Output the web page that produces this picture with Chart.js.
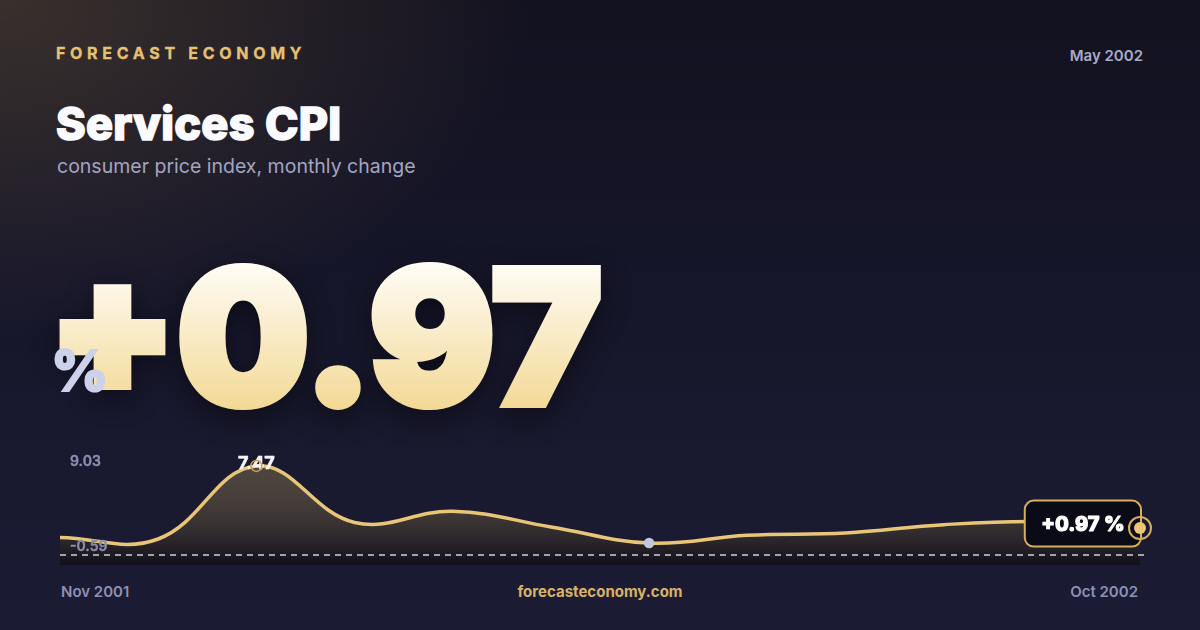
<!DOCTYPE html>
<html>
<head>
<meta charset="utf-8">
<title>Services CPI</title>
<script src="https://cdn.jsdelivr.net/npm/chart.js@4.4.0/dist/chart.umd.min.js"></script>
<style>
html, body { margin: 0; padding: 0; }
body {
    width: 1200px; height: 630px; overflow: hidden; position: relative;
    font-family: Inter, "Noto Sans", sans-serif;
    background:
        radial-gradient(ellipse 760px 480px at 0% 0%, rgba(112, 90, 62, 0.42), rgba(112, 90, 62, 0) 70%),
        linear-gradient(180deg, #131220 0%, #16162a 45%, #1b1b34 100%);
}
.t { position: absolute; line-height: 1; white-space: nowrap; }
#brand { left: 56px; top: 45px; font-size: 16px; font-weight: 700; letter-spacing: 4.7px; color: #e6c170; -webkit-text-stroke: 0.3px #e6c170; }
#date { right: 57px; top: 48px; font-size: 15px; font-weight: 600; color: #a8abc8; }
#title { left: 56px; top: 101px; font-size: 45px; font-weight: 800; color: #fafaff; letter-spacing: 0.3px; -webkit-text-stroke: 1.6px #fafaff; }
#subtitle { left: 57px; top: 157px; font-size: 19.5px; font-weight: 400; color: #a3a5c2; }
#big { position: absolute; left: 0; top: 220px; filter: drop-shadow(0 8px 14px rgba(0, 0, 0, 0.45)); }
#big text { font-family: Inter, "Noto Sans", sans-serif; font-size: 186px; font-weight: 900; }
#pct { left: 51px; top: 343px; font-size: 56px; font-weight: 800; color: #cdd1ea; -webkit-text-stroke: 2px #cdd1ea; }
#chartBox { position: absolute; left: 40px; top: 430px; width: 1120px; height: 145px; }
#from { left: 61px; top: 584px; font-size: 15px; font-weight: 600; color: #8d91b5; }
#site { left: 0; width: 1200px; text-align: center; top: 584px; font-size: 15px; font-weight: 700; color: #d8b366; }
#to { right: 62px; top: 584px; font-size: 15px; font-weight: 600; color: #8d91b5; }
</style>
</head>
<body>
<div class="t" id="brand">FORECAST ECONOMY</div>
<div class="t" id="date">May 2002</div>
<div class="t" id="title">Services CPI</div>
<div class="t" id="subtitle">consumer price index, monthly change</div>
<svg id="big" width="700" height="230">
    <defs>
        <linearGradient id="bigGrad" gradientUnits="userSpaceOnUse" x1="0" y1="40" x2="0" y2="190">
            <stop offset="0" stop-color="#fffdf8"/>
            <stop offset="1" stop-color="#f3d995"/>
        </linearGradient>
    </defs>
    <text id="bigText" x="48" y="184" fill="url(#bigGrad)" stroke="url(#bigGrad)" stroke-width="8" stroke-linejoin="miter"></text>
</svg>
<div class="t" id="pct">%</div>
<div id="chartBox"><canvas id="cpiChart" width="1120" height="145"></canvas></div>
<div class="t" id="from"></div>
<div class="t" id="site">forecasteconomy.com</div>
<div class="t" id="to"></div>

<script>
// Services CPI, monthly change (%)
const months = ['Nov 2001', 'Dec 2001', 'Jan 2002', 'Feb 2002', 'Mar 2002', 'Apr 2002',
                'May 2002', 'Jun 2002', 'Jul 2002', 'Aug 2002', 'Sep 2002', 'Oct 2002'];
const cpiChange = [-0.01, -0.17, 7.47, 1.56, 2.73, 1.09, -0.59, 0.22, 0.46, 1.33, 1.64, 0.97];
const axisMin = -2.89;
const axisMax = 9.03;

const GOLD = '#e9c677';
const last = cpiChange.length - 1;
const peakIdx = cpiChange.indexOf(Math.max(...cpiChange));
const lowIdx = cpiChange.indexOf(Math.min(...cpiChange));

function signed(v) {
    return (v >= 0 ? '+' : '') + v.toFixed(2);
}

document.getElementById('bigText').textContent = signed(cpiChange[last]);
document.getElementById('from').textContent = months[0];
document.getElementById('to').textContent = months[last];

// heavier text on canvas: fill plus a thin stroke of the same colour
function boldText(ctx, txt, x, y, color, extra) {
    ctx.fillStyle = color;
    ctx.strokeStyle = color;
    ctx.lineWidth = extra;
    ctx.lineJoin = 'round';
    ctx.strokeText(txt, x, y);
    ctx.fillText(txt, x, y);
}

// extra marks: dashed baseline, range labels, peak label, latest value badge
const overlay = {
    id: 'overlay',
    afterDatasetsDraw(chart) {
        const { ctx, chartArea: a } = chart;
        const pts = chart.getDatasetMeta(0).data;
        ctx.save();

        ctx.setLineDash([6, 5]);
        ctx.strokeStyle = 'rgba(255,255,255,0.8)';
        ctx.lineWidth = 1.5;
        ctx.beginPath();
        ctx.moveTo(a.left, a.bottom - 10);
        ctx.lineTo(a.right + 6, a.bottom - 10);
        ctx.stroke();
        ctx.setLineDash([]);

        ctx.font = '600 14px Inter';
        ctx.textAlign = 'left';
        ctx.textBaseline = 'middle';
        boldText(ctx, axisMax.toFixed(2), a.left + 10, a.top + 11, '#8b8dad', 0.4);
        boldText(ctx, cpiChange[lowIdx].toFixed(2), a.left + 10, a.bottom - 18, '#8b8dad', 0.4);

        const pk = pts[peakIdx];
        ctx.font = '700 18px Inter';
        ctx.textAlign = 'center';
        ctx.textBaseline = 'alphabetic';
        boldText(ctx, cpiChange[peakIdx].toFixed(2), pk.x, pk.y + 3, '#f4f4f8', 0.6);
        ctx.strokeStyle = '#c9a24f';
        ctx.lineWidth = 1.5;
        ctx.beginPath();
        ctx.arc(pk.x, pk.y, 5.5, 0, Math.PI * 2);
        ctx.stroke();

        // latest value badge
        const p = pts[last];
        const label = signed(cpiChange[last]) + ' %';
        ctx.font = '800 20px Inter';
        const w = ctx.measureText(label).width + 33;
        const h = 46;
        const bx = p.x + 1 - w, by = p.y - 4.5 - h / 2;
        ctx.beginPath();
        ctx.roundRect(bx, by, w, h, 9);
        ctx.fillStyle = '#0b0b17';
        ctx.fill();
        ctx.strokeStyle = '#d6ae5c';
        ctx.lineWidth = 2;
        ctx.stroke();
        ctx.textAlign = 'center';
        ctx.textBaseline = 'middle';
        boldText(ctx, label, bx + w / 2, by + h / 2 + 1, '#ffffff', 1.1);

        ctx.beginPath();
        ctx.arc(p.x, p.y, 11, 0, Math.PI * 2);
        ctx.strokeStyle = '#d6ae5c';
        ctx.lineWidth = 2;
        ctx.stroke();
        ctx.beginPath();
        ctx.arc(p.x, p.y, 6, 0, Math.PI * 2);
        ctx.fillStyle = GOLD;
        ctx.fill();

        ctx.restore();
    }
};

new Chart(document.getElementById('cpiChart'), {
    type: 'line',
    data: {
        labels: months,
        datasets: [{
            data: cpiChange,
            borderColor: GOLD,
            borderWidth: 3.5,
            tension: 0.4,
            fill: 'start',
            clip: false,
            backgroundColor: (c) => {
                const a = c.chart.chartArea;
                if (!a) return 'rgba(0,0,0,0)';
                const g = c.chart.ctx.createLinearGradient(0, a.top, 0, a.bottom);
                g.addColorStop(0, 'rgba(232,196,116,0.26)');
                g.addColorStop(1, 'rgba(10,9,14,0.6)');
                return g;
            },
            pointRadius: (c) => c.dataIndex === lowIdx ? 5.3 : 0,
            pointBackgroundColor: '#c3c6dd',
            pointBorderWidth: 0,
            pointHoverRadius: 0
        }]
    },
    options: {
        responsive: false,
        animation: false,
        layout: { padding: { left: 20, right: 20, top: 21, bottom: 10 } },
        plugins: { legend: { display: false }, tooltip: { enabled: false } },
        scales: {
            x: { display: false, offset: false },
            y: { display: false, min: axisMin, max: axisMax }
        }
    },
    plugins: [overlay]
});
</script>
</body>
</html>
